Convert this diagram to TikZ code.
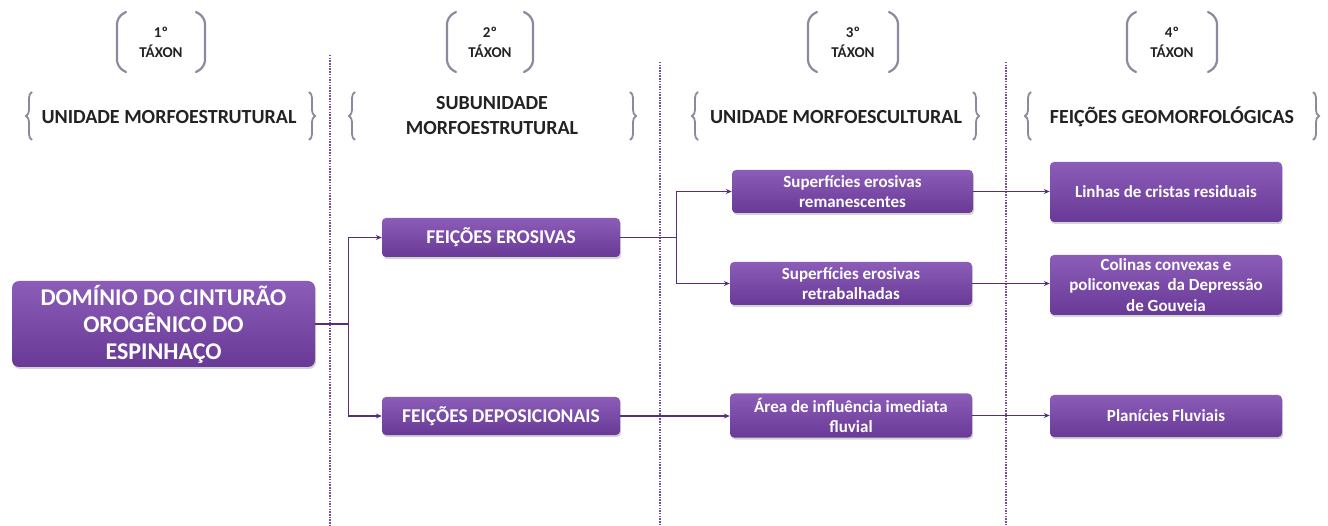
\documentclass[tikz,border=0pt]{standalone}
\usepackage{fontspec}
\setmainfont{Carlito}
\usetikzlibrary{arrows.meta,shadows,decorations.pathreplacing}
\definecolor{boxtop}{HTML}{8B5DB8}
\definecolor{boxbot}{HTML}{683996}
\definecolor{conncol}{HTML}{5B2C7C}
\definecolor{dashcol}{HTML}{7A4C9C}
\definecolor{brackcol}{HTML}{8A8A9E}
\definecolor{headcol}{HTML}{222222}
\tikzset{
  pbox/.style={rectangle, rounded corners=4pt, top color=boxtop, bottom color=boxbot, draw=none,
    text=white, font=\bfseries\fontsize{17}{20.5}\selectfont, align=center, inner sep=1pt,
    drop shadow={opacity=0.35, shadow xshift=1pt, shadow yshift=-2pt}},
  conn/.style={draw=conncol, line width=1.3pt, -{Stealth[length=6pt,width=5pt]}},
  vdash/.style={draw=dashcol, line width=1.2pt, dash pattern=on 1.5pt off 1.2pt},
  brack/.style={draw=brackcol, line width=2.2pt, line cap=round},
  brc/.style={draw=brackcol, line width=1.8pt, decorate, decoration={brace, amplitude=6pt}},
  head/.style={text=headcol, font=\bfseries\fontsize{20}{25}\selectfont, align=center},
  tax/.style={text=headcol, font=\bfseries\fontsize{15}{20}\selectfont, align=center}
}
\begin{document}
\begin{tikzpicture}[x=1pt,y=-1pt]
\useasboundingbox (0,0) rectangle (1328,526);
% dashed separators
\draw[vdash] (330,55) -- (330,526);
\draw[vdash] (660,62) -- (660,526);
\draw[vdash] (1006,62) -- (1006,526);
% taxon labels with parens
\foreach \cx/\hw in {161/44, 490/43, 853/45, 1172/45}{
  \draw[brack, rounded corners=7pt] (\cx-\hw+9,12) -- (\cx-\hw,17) -- (\cx-\hw,67) -- (\cx-\hw+9,72);
  \draw[brack, rounded corners=7pt] (\cx+\hw-9,12) -- (\cx+\hw,17) -- (\cx+\hw,67) -- (\cx+\hw-9,72);
}
\node[tax] (t1) at (161,42) {1º\\TÁXON};
\node[tax] (t2) at (490,42) {2º\\TÁXON};
\node[tax] (t3) at (853,42) {3º\\TÁXON};
\node[tax] (t4) at (1172,42) {4º\\TÁXON};
% header braces
\draw[brc] (32,140) -- (32,92);
\draw[brc] (309,92) -- (309,140);
\draw[brc] (355,140) -- (355,92);
\draw[brc] (630,92) -- (630,140);
\draw[brc] (698,140) -- (698,92);
\draw[brc] (973,92) -- (973,140);
\draw[brc] (1031,140) -- (1031,92);
\draw[brc] (1313,92) -- (1313,140);
\node[head] (h1) at (169,117) {UNIDADE MORFOESTRUTURAL};
\node[head] (h2) at (492,116) {SUBUNIDADE\\MORFOESTRUTURAL};
\node[head] (h3) at (836,117) {UNIDADE MORFOESCULTURAL};
\node[head] (h4) at (1172,117) {FEIÇÕES GEOMORFOLÓGICAS};
% boxes
\node[pbox, minimum width=303pt, minimum height=86pt, font=\bfseries\fontsize{24}{27}\selectfont, rounded corners=7pt] (main) at (163.5,324) {DOMÍNIO DO CINTURÃO\\OROGÊNICO DO\\ESPINHAÇO};
\node[pbox, minimum width=238pt, minimum height=39pt, font=\bfseries\fontsize{19.5}{22}\selectfont] (fe) at (501,237.5) {FEIÇÕES EROSIVAS};
\node[pbox, minimum width=238pt, minimum height=38pt, font=\bfseries\fontsize{19.5}{22}\selectfont] (fd) at (501,416) {FEIÇÕES DEPOSICIONAIS};
\node[pbox, minimum width=241pt, minimum height=43pt] (s1) at (852.5,191.5) {Superfícies erosivas\\remanescentes};
\node[pbox, minimum width=242pt, minimum height=43pt] (s2) at (851,283.5) {Superfícies erosivas\\retrabalhadas};
\node[pbox, minimum width=242pt, minimum height=44pt] (s3) at (851,415.5) {Área de influência imediata\\fluvial};
\node[pbox, minimum width=232pt, minimum height=60pt] (l1) at (1166,192) {Linhas de cristas residuais};
\node[pbox, minimum width=232pt, minimum height=60pt] (l2) at (1166,285) {Colinas convexas e\\policonvexas\ \ da Depressão\\de Gouveia};
\node[pbox, minimum width=232pt, minimum height=42pt] (l3) at (1166,416) {Planícies Fluviais};
% connectors
\draw[conn] (main.east) -- ++(33,0) |- (fe.west);
\draw[conn] (main.east) -- ++(33,0) |- (fd.west);
\draw[conn] (fe.east) -- ++(56,0) |- (s1.west);
\draw[conn] (fe.east) -- ++(56,0) |- (s2.west);
\draw[conn] (fd.east) -- (s3.west |- fd.east);
\draw[conn] (s1.east) -- (l1.west |- s1.east);
\draw[conn] (s2.east) -- (l2.west |- s2.east);
\draw[conn] (s3.east) -- (l3.west |- s3.east);
\end{tikzpicture}
\end{document}
